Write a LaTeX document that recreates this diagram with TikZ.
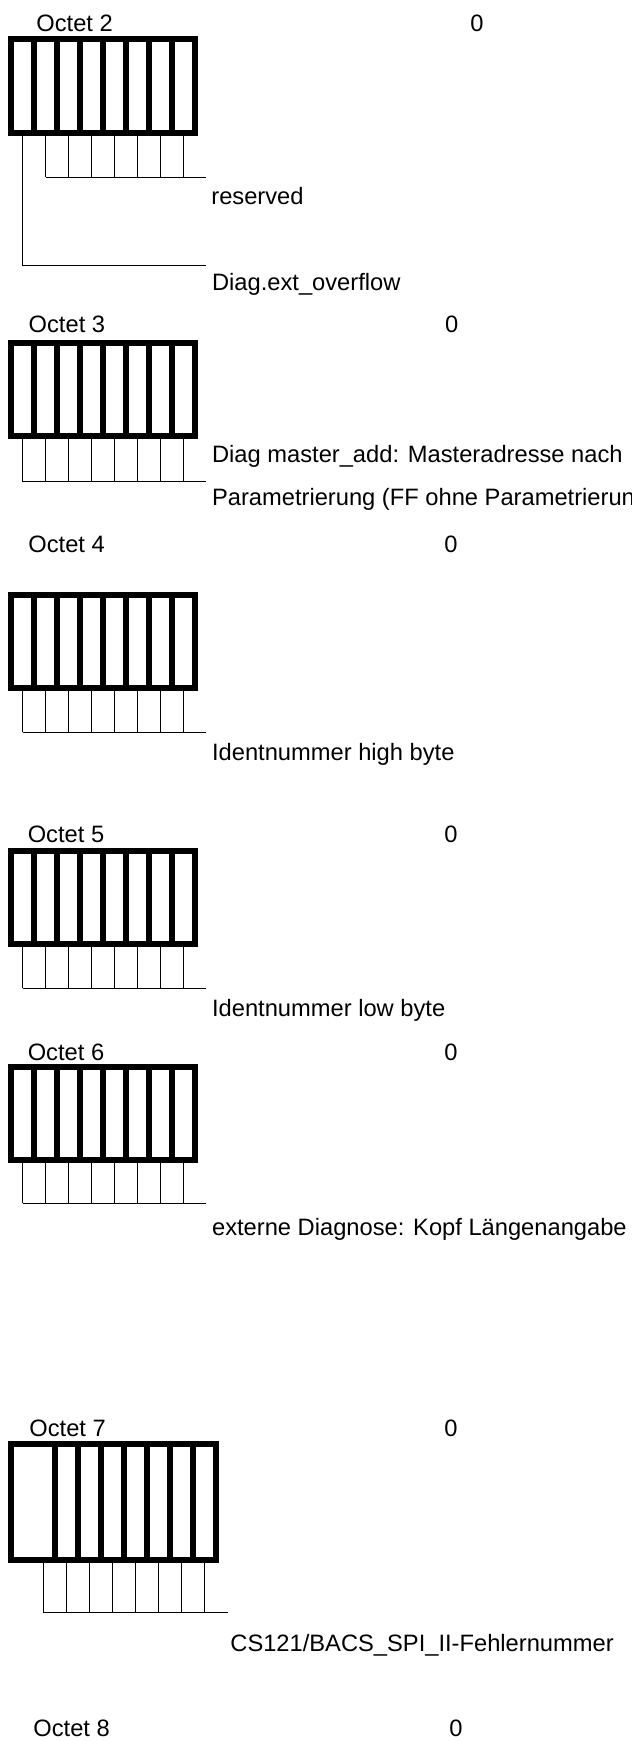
\documentclass[tikz,border=0pt]{standalone}
\usepackage{fontspec}
\setmainfont{Liberation Sans}
\usetikzlibrary{positioning}

\begin{document}
\begin{tikzpicture}[x=0.5pt,y=-0.5pt,
    octetbox/.style={line width=3pt},
    bitline/.style={line width=0.5pt},
    txt/.style={anchor=base west,inner sep=0pt,font=\fontsize{11.85}{14}\selectfont},
    zero/.style={anchor=base,inner sep=0pt,font=\fontsize{11.85}{14}\selectfont}]
  \useasboundingbox (0,0) rectangle (632,1741);
  \clip (0,0) rectangle (632,1741);
  % Octet 2
  \node[txt](o2) at (36,31){Octet 2};
  \node[zero](z2) at (477,31){0};
  \draw[octetbox](11,38.7) rectangle (195,132.7);
  \foreach \i in {1,...,7}{\draw[octetbox](11+23*\i,38.7)--(11+23*\i,132.7);}
  \foreach \i in {1,...,7}{\draw[bitline](22.5+23*\i,132.7)--(22.5+23*\i,177);}
  \coordinate(r2) at (205.6,177);
  \coordinate(d2) at (205.6,265);
  \draw[bitline](45.5,177)--(r2);
  \draw[bitline](22.5,132.7)|-(d2);
  \node[txt](t2a) at (211,204){reserved};
  \node[txt](t2b) at (211.7,290){Diag.ext\_overflow};
  % Octet 3
  \node[txt](o3) at (28.3,332){Octet 3};
  \node[zero](z3) at (451.6,332){0};
  \draw[octetbox](11,343) rectangle (195,436.3);
  \foreach \i in {1,...,7}{\draw[octetbox](11+23*\i,343)--(11+23*\i,436.3);}
  \foreach \i in {0,...,7}{\draw[bitline](22.5+23*\i,436.3)--(22.5+23*\i,481.7);}
  \coordinate(e3) at (205.6,481.7);
  \draw[bitline](22.5,481.7)--(e3);
  \node[txt](t3a) at (211.7,462){Diag master\_add: Masteradresse nach};
  \node[txt](t3b) at (211.7,505){Parametrierung (FF ohne Parametrierung)};
  % Octet 4
  \node[txt](o4) at (28,552){Octet 4};
  \node[zero](z4) at (451,552){0};
  \draw[octetbox](11,595) rectangle (195,688);
  \foreach \i in {1,...,7}{\draw[octetbox](11+23*\i,595)--(11+23*\i,688);}
  \foreach \i in {0,...,7}{\draw[bitline](22.5+23*\i,688)--(22.5+23*\i,732);}
  \coordinate(e4) at (205.6,732);
  \draw[bitline](22.5,732)--(e4);
  \node[txt](t4) at (211.7,760){Identnummer high byte};
  % Octet 5
  \node[txt](o5) at (27.4,842){Octet 5};
  \node[zero](z5) at (451,842){0};
  \draw[octetbox](11,851.3) rectangle (195,943.7);
  \foreach \i in {1,...,7}{\draw[octetbox](11+23*\i,851.3)--(11+23*\i,943.7);}
  \foreach \i in {0,...,7}{\draw[bitline](22.5+23*\i,943.7)--(22.5+23*\i,988.3);}
  \coordinate(e5) at (205.6,988.3);
  \draw[bitline](22.5,988.3)--(e5);
  \node[txt](t5) at (211.7,1016){Identnummer low byte};
  % Octet 6
  \node[txt](o6) at (27.4,1060){Octet 6};
  \node[zero](z6) at (451,1060){0};
  \draw[octetbox](11,1067) rectangle (195,1159.7);
  \foreach \i in {1,...,7}{\draw[octetbox](11+23*\i,1067)--(11+23*\i,1159.7);}
  \foreach \i in {0,...,7}{\draw[bitline](22.5+23*\i,1159.7)--(22.5+23*\i,1203.3);}
  \coordinate(e6) at (205.6,1203.3);
  \draw[bitline](22.5,1203.3)--(e6);
  \node[txt](t6) at (211.7,1235){externe Diagnose: Kopf Längenangabe};
  % Octet 7
  \node[txt](o7) at (29,1436){Octet 7};
  \node[zero](z7) at (451,1436){0};
  \draw[octetbox](11,1443.7) rectangle (216,1560.3);
  \foreach \i in {0,...,6}{\draw[octetbox](55+23*\i,1443.7)--(55+23*\i,1560.3);}
  \foreach \i in {0,...,7}{\draw[bitline](43.5+23*\i,1560.3)--(43.5+23*\i,1612.7);}
  \coordinate(e7) at (228.3,1612.7);
  \draw[bitline](43.5,1612.7)--(e7);
  \node[txt](t7) at (230,1651){CS121/BACS\_SPI\_II-Fehlernummer};
  % Octet 8
  \node[txt](o8) at (33,1736){Octet 8};
  \node[zero](z8) at (456,1736){0};
\end{tikzpicture}
\end{document}
